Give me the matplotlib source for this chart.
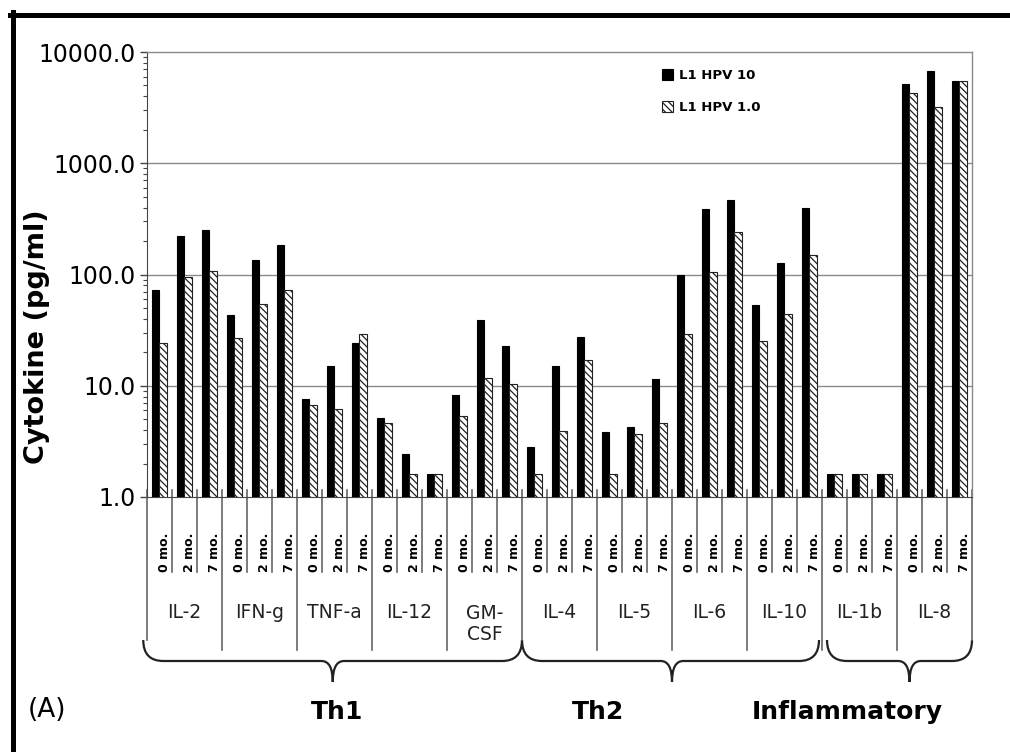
import numpy as np
import matplotlib
matplotlib.use('Agg')
import matplotlib.pyplot as plt
from matplotlib.path import Path
from matplotlib.patches import PathPatch
from matplotlib.lines import Line2D
from matplotlib.ticker import FixedLocator, FuncFormatter, NullFormatter

plt.rcParams['font.family'] = ['DejaVu Sans']
plt.rcParams['hatch.linewidth'] = 0.9
plt.rcParams['hatch.color'] = '#444444'

# Citocinas, tempos de coleta e grupos
cytokines = ['IL-2', 'IFN-g', 'TNF-a', 'IL-12', 'GM-\nCSF',
             'IL-4', 'IL-5', 'IL-6', 'IL-10', 'IL-1b', 'IL-8']
months = ['0 mo.', '2 mo.', '7 mo.']
groups = ['Th1', 'Th2', 'Inflammatory']
group_members = [5, 4, 2]  # citocinas em cada grupo

# Cytokine (pg/ml), 3 tempos por citocina
hpv10 = [72, 221, 252,
         43, 136, 185,
         7.6, 14.9, 24.2,
         5.1, 2.45, 1.6,
         8.2, 39.4, 22.6,
         2.8, 14.9, 27.7,
         3.8, 4.3, 11.4,
         98, 389, 472,
         53, 128, 400,
         1.6, 1.6, 1.6,
         5160, 6790, 5530]
hpv1 = [24.2, 94.6, 107,
        27, 53.8, 72.8,
        6.7, 6.2, 28.9,
        4.6, 1.6, 1.6,
        5.4, 11.8, 10.3,
        1.6, 3.9, 16.9,
        1.6, 3.7, 4.6,
        28.9, 105, 240,
        25.2, 44.3, 151,
        1.6, 1.6, 1.6,
        4290, 3230, 5530]

W, H = 1010, 752
fig = plt.figure(figsize=(W / 100, H / 100), dpi=100)
ax = fig.add_axes([147 / W, 1 - 497 / H, 825 / W, 445 / H])

n = len(hpv10)
x = np.arange(n)
bw = 0.3
ax.bar(x - 0.155, np.array(hpv10) - 1, bw, bottom=1, color='black',
       edgecolor='black', linewidth=0.8, label='L1 HPV 10', zorder=3)
ax.bar(x + 0.145, np.array(hpv1) - 1, bw, bottom=1, color='white',
       edgecolor='#222222', linewidth=0.8, hatch='\\\\\\\\\\', label='L1 HPV 1.0',
       zorder=3)

ax.set_yscale('log')
ax.set_ylim(1, 10000)
ax.set_xlim(-0.5, n - 0.5)

# grade horizontal e eixos
for v in [10, 100, 1000]:
    ax.axhline(v, color='#8a8a8a', linewidth=1.0, zorder=1)
for s in ['top', 'right']:
    ax.spines[s].set_color('#8a8a8a')
    ax.spines[s].set_linewidth(1.0)
ax.spines['left'].set_color('#444444')
ax.spines['bottom'].set_color('#444444')

ax.yaxis.set_major_locator(FixedLocator([1, 10, 100, 1000, 10000]))
ax.yaxis.set_major_formatter(FuncFormatter(lambda v, p: f'{v:.1f}'))
minors = [m * 10 ** d for d in range(4) for m in range(2, 10)]
ax.yaxis.set_minor_locator(FixedLocator(minors))
ax.yaxis.set_minor_formatter(NullFormatter())
ax.tick_params(axis='y', which='major', length=5, width=1, color='#444444',
               labelsize=17, pad=3.5)
ax.tick_params(axis='y', which='minor', length=3, width=0.8, color='#444444')
ax.set_xticks([])

ax.set_ylabel('Cytokine (pg/ml)', fontsize=19.5, fontweight='bold')
ax.yaxis.set_label_coords(-0.118, 0.36)

# legenda sem moldura
ax.legend(loc='upper left', bbox_to_anchor=(0.624, 0.962), frameon=False,
          prop={'weight': 'bold', 'size': 9.5},
          handlelength=0.85, handleheight=0.9, handletextpad=0.45,
          labelspacing=1.45, borderpad=0, borderaxespad=0)

# linhas separadoras abaixo do eixo
tr = ax.get_xaxis_transform()
y_short = (497 - 572) / 445
y_long = (497 - 650) / 445
y_top = (497 - 640) / 445
for k in range(n + 1):
    xs = k - 0.5
    if k == 0 or k == n or k == 15:
        yb = y_top
    elif k % 3 == 0:
        yb = y_long
    else:
        yb = y_short
    ax.plot([xs, xs], [0.016, yb], color='#666666', linewidth=1.2,
            transform=tr, clip_on=False, zorder=2)

# rotulos de tempo (verticais)
for i in range(n):
    ax.text(i + 0.2, y_short, months[i % 3], rotation=90, ha='center',
            va='bottom', fontsize=9, fontweight='bold', transform=tr)

# nomes das citocinas
for c, name in enumerate(cytokines):
    yc = (497 - 613) / 445 if '\n' not in name else (497 - 624) / 445
    ax.text(3 * c + 1, yc, name, ha='center', va='center', fontsize=13.5,
            linespacing=1.1, color='#222222', transform=tr)


# chaves dos grupos
def brace(x0, x1, xm):
    yt, yh, yb = y_top, (497 - 661) / 445, (497 - 682) / 445
    r, rt = 0.8, 0.45
    verts = [(x0, yt), (x0, yh), (x0 + r, yh),
             (xm - rt, yh), (xm, yh), (xm, yb),
             (xm, yh), (xm + rt, yh),
             (x1 - r, yh), (x1, yh), (x1, yt)]
    codes = [Path.MOVETO, Path.CURVE3, Path.CURVE3,
             Path.LINETO, Path.CURVE3, Path.CURVE3,
             Path.CURVE3, Path.CURVE3,
             Path.LINETO, Path.CURVE3, Path.CURVE3]
    ax.add_patch(PathPatch(Path(verts, codes), fill=False, edgecolor='#222222',
                           linewidth=1.6, transform=tr, clip_on=False))


start = 0
spans = []
for g, m in enumerate(group_members):
    x0 = 3 * start - 0.5
    x1 = 3 * (start + m) - 0.5
    spans.append((x0, x1))
    start += m
brace(spans[0][0] - 0.15, spans[0][1], (spans[0][0] + spans[0][1]) / 2 - 0.07)
brace(spans[1][0], spans[1][1] - 0.12, (spans[1][0] + spans[1][1]) / 2)
brace(spans[2][0] + 0.2, spans[2][1], (spans[2][0] + spans[2][1]) / 2 + 0.5)

label_x = [7.1, 17.55, 27.5]
for name, lx in zip(groups, label_x):
    ax.text(lx, (497 - 712) / 445, name, ha='center', va='center',
            fontsize=18, fontweight='bold', transform=tr)

fig.text(47 / W, 1 - 710 / H, '(A)', ha='center', va='center', fontsize=19)

# moldura externa
fig.add_artist(Line2D([10 / W, 1], [1 - 14.5 / H, 1 - 14.5 / H],
                      transform=fig.transFigure, color='black', linewidth=3.6))
fig.add_artist(Line2D([12.5 / W, 12.5 / W], [0, 1 - 12 / H],
                      transform=fig.transFigure, color='black', linewidth=3.6))

fig.savefig('out.png', dpi=100)
